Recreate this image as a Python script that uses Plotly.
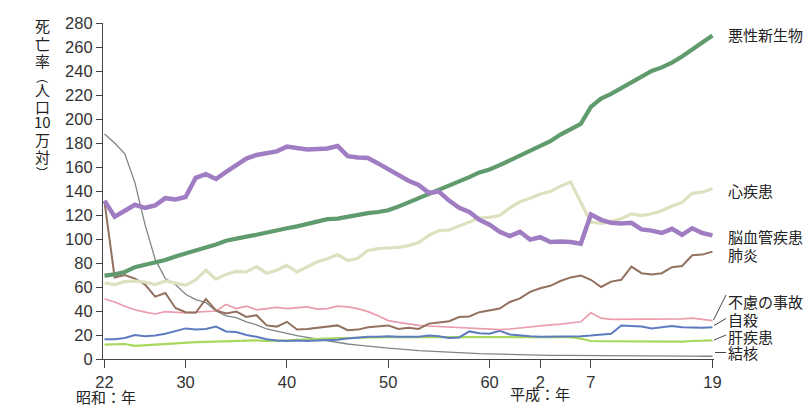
import plotly.graph_objects as go

# ---------------- data ----------------
years = list(range(1947, 2008))

cancer = [69.5, 70.5, 72.5, 76.5, 78.5, 80.5, 82.5, 85.5, 88, 90.5,
          92.5, 95.5, 98.5, 100.5, 102, 103.5, 105.5, 107, 109, 110.5,
          112.5, 114.5, 116.5, 117, 118.5, 120.5, 121.5, 122.5, 124, 127,
          130.5, 133.5, 137.5, 141, 144, 147.5, 151.5, 155.5, 158, 161.5,
          165.5, 169.5, 174, 177.5, 181.5, 187, 191.5, 196, 210, 217,
          221, 226, 231, 236, 240, 243, 247, 252, 257.5, 263, 269.5]

heart = [63.5, 62, 64.5, 65, 64, 62, 65, 63.5, 61.5, 66,
         74, 66.5, 70.5, 73, 72.5, 77, 71.5, 74, 78, 72.5,
         76.5, 81, 83.5, 87, 82, 84, 90.5, 92, 92.5, 93,
         94.5, 97, 103, 107, 107.5, 111, 114, 117.5, 118, 119.5,
         126, 131, 134, 137.5, 139.5, 144, 147.5, 130, 114, 113,
         114.5, 117, 121, 119.5, 121, 123.5, 127.5, 130.5, 138, 139, 142]

stroke = [132, 118.5, 123.5, 128.5, 126, 128, 134, 133, 135, 151,
          154, 150, 156, 162, 167, 170, 171.5, 173, 177, 175.5,
          174.5, 175, 175.5, 177.5, 169, 168, 167.5, 163, 158, 154,
          148.5, 145, 138.5, 139.5, 132, 126, 122.5, 116, 112, 106,
          102.5, 106, 99.5, 101.5, 97.5, 98, 97.5, 96, 120.5, 116,
          113.5, 113, 113.5, 108, 107, 105, 108.5, 103.5, 109, 105, 103]

pneumonia = [131, 68, 70, 67, 62, 52, 55, 42.5, 39, 38.5,
             50, 40.5, 38, 39.5, 35, 36.5, 28, 27, 31, 24.5,
             25, 26, 26.5, 28, 24, 24.5, 26.5, 27.5, 28, 25,
             26, 25, 29.5, 30.5, 31.5, 35, 35.5, 39, 40.5, 42,
             47.5, 50.5, 56, 59, 61, 65, 68, 69.5, 66, 60,
             64.5, 66, 77, 71.5, 70.5, 71.5, 76.5, 77.5, 86.5, 87, 89.5]

accident = [50, 47.5, 44, 41, 39, 37.5, 39.5, 39, 38.5, 39,
            39.5, 40, 45.5, 42, 44, 41, 42, 43, 42, 43,
            43.5, 41.5, 42, 44, 43.5, 42, 39.5, 36, 32, 30.5,
            29, 28, 27.5, 27, 27, 26.5, 26, 25.5, 25, 24.5,
            25, 26, 27, 27.5, 28.5, 29, 30, 31, 38.5, 34,
            33, 33, 33.5, 33.5, 33.5, 33, 33, 33.5, 34, 33, 32]

suicide = [16.5, 16.5, 17.5, 20, 19, 19.5, 21, 23, 25.5, 24.5,
           25, 27, 23, 22.5, 20, 18.5, 16.5, 15.5, 15, 15.5,
           15, 15.5, 15.5, 16, 17, 18, 18.5, 18.5, 19, 18.5,
           18.5, 18.5, 19.5, 19, 17.5, 18, 23, 21.5, 21, 23.5,
           20.5, 19.5, 19, 18.5, 18.5, 18.5, 18.5, 19, 19.5, 20,
           21, 28, 27.5, 27, 25.5, 26.5, 27.5, 26.5, 26, 26, 26.5]

liver = [12, 12.5, 12.5, 11, 11.5, 12.5, 13, 13.5, 14, 14,
         14.2, 14.5, 14.5, 14.7, 15.5, 15.5, 15, 15, 15.5, 16,
         16.5, 17, 17, 17.5, 17.5, 17.8, 18, 18, 18.3, 18.3,
         18.3, 18.3, 18.3, 18.3, 18.3, 18.3, 18.3, 18.3, 18.3, 18.3,
         18.2, 18.2, 18, 18, 18, 18.2, 18.3, 17, 15, 14.8,
         14.8, 14.7, 14.6, 14.5, 14.4, 14.2, 14.3, 14.5, 15, 15.5, 15.5]

tb = [187.5, 180, 171, 147, 112, 83, 67, 62, 54, 49.5,
      47, 40, 36, 34.5, 31, 28.5, 25, 23, 21.5, 19.5,
      18, 16.5, 15, 14, 12.5, 11.5, 10.5, 10, 9, 8.5,
      7.5, 7, 6.5, 6, 5.5, 5, 4.8, 4.5, 4.3, 4,
      3.8, 3.6, 3.4, 3.2, 3.1, 3, 3, 3, 3, 2.9,
      2.8, 2.8, 2.7, 2.6, 2.6, 2.5, 2.5, 2.4, 2.4, 2.3, 2.3]

tick_years = [1947, 1955, 1965, 1975, 1985, 1990, 1995, 2007]
tick_text = ["22", "30", "40", "50", "60", "2", "7", "19"]
y_ticks = list(range(0, 281, 20))

names = ["結核", "肝疾患", "自殺", "不慮の事故", "肺炎", "心疾患", "悪性新生物", "脳血管疾患"]
series = [tb, liver, suicide, accident, pneumonia, heart, cancer, stroke]

# ---------------- styles ----------------
colors = ["#7d8585", "#a9d85c", "#5d7cc0", "#eb9cad", "#93705f", "#dfe0c0", "#5f9b6c", "#a07dc3"]
widths = [1.3, 2.2, 2.0, 1.7, 2.0, 3.2, 4.2, 4.5]

# label placement (pixel positions converted to paper coords) and leader lines
label_y_px = {"悪性新生物": 35, "心疾患": 190.7, "脳血管疾患": 236.7, "肺炎": 254,
              "不慮の事故": 301.7, "自殺": 319.3, "肝疾患": 336.7, "結核": 352.7}
leaders_px = [((713.5, 320), (726, 295)), ((714, 325.5), (726, 318.5)),
              ((714, 340), (726, 335)), ((715, 352.5), (726, 352.5))]

W, H = 811, 406
L, R, T, B = 103, 97, 23, 47
PW, PH = W - L - R, H - T - B


def px2paper(x, y):
    return (x - L) / PW, (H - B - y) / PH


fig = go.Figure()
for name, ys, c, w in zip(names, series, colors, widths):
    fig.add_trace(go.Scatter(x=years, y=ys, mode="lines", name=name,
                             line=dict(color=c, width=w), hoverinfo="skip"))

cjk = "Noto Sans CJK JP"
annotations = []
for name, py in label_y_px.items():
    xp, yp = px2paper(725.5, py)
    annotations.append(dict(xref="paper", yref="paper", x=xp, y=yp, text=name,
                            showarrow=False, xanchor="left", yanchor="middle",
                            font=dict(family=cjk, size=15, color="#222")))

# vertical y-axis title
title_chars = ["死", "亡", "率", "︵", "人", "口", "10", "万", "対", "︶"]
title_py = [26, 43, 60, 76, 90, 106, 122, 139, 156, 172]
title_sz = [15, 15, 15, 12, 15, 15, 15, 15, 15, 12]
for ch, py, sz in zip(title_chars, title_py, title_sz):
    xp, yp = px2paper(42, py)
    annotations.append(dict(xref="paper", yref="paper", x=xp, y=yp, text=ch,
                            showarrow=False, xanchor="center", yanchor="middle",
                            font=dict(family=cjk, size=sz, color="#222")))

for txt, (lx, ly) in [("昭和：年", (74, 396)), ("平成：年", (508, 393))]:
    xp, yp = px2paper(lx, ly)
    annotations.append(dict(xref="paper", yref="paper", x=xp, y=yp, text=txt,
                            showarrow=False, xanchor="left", yanchor="middle",
                            font=dict(family=cjk, size=15, color="#222")))

shapes = []
for (x0, y0), (x1, y1) in leaders_px:
    a0, b0 = px2paper(x0, y0)
    a1, b1 = px2paper(x1, y1)
    shapes.append(dict(type="line", xref="paper", yref="paper", x0=a0, y0=b0, x1=a1, y1=b1,
                       line=dict(color="#444", width=1)))

fig.update_layout(
    width=W, height=H,
    margin=dict(l=L, r=R, t=T, b=B, pad=0),
    paper_bgcolor="white", plot_bgcolor="white",
    showlegend=False,
    annotations=annotations,
    shapes=shapes,
    xaxis=dict(range=[1946.85, 2007.15], tickvals=tick_years, ticktext=tick_text,
               showgrid=False, zeroline=False, showline=True, linecolor="#444", linewidth=1.2,
               ticks="outside", ticklen=8, tickwidth=1.2, tickcolor="#444",
               tickfont=dict(family="Liberation Sans, Arial", size=16.5, color="#333")),
    yaxis=dict(range=[0, 280], tickvals=y_ticks,
               showgrid=False, zeroline=False, showline=True, linecolor="#444", linewidth=1.2,
               ticks="outside", ticklen=6, tickwidth=1.2, tickcolor="#444",
               tickfont=dict(family="Liberation Sans, Arial", size=16.5, color="#333")),
)

fig.write_html("out.html", config={"displayModeBar": False},
               post_script="document.body.style.margin='0';")
